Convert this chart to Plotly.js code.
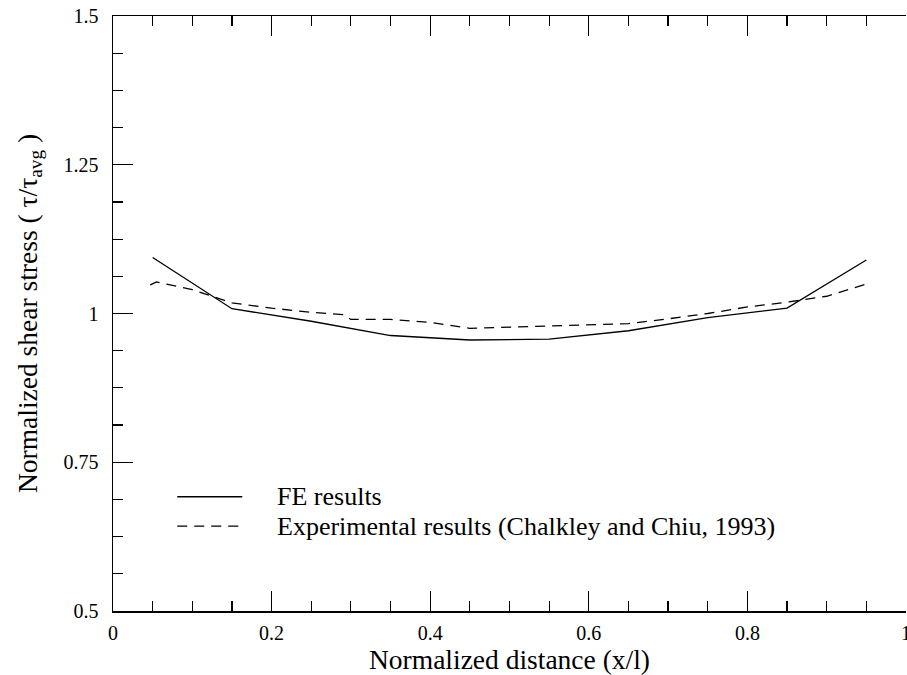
<!DOCTYPE html>
<html>
<head>
<meta charset="utf-8">
<script src="https://cdn.plot.ly/plotly-3.0.1.min.js"></script>
<style>html,body{margin:0;padding:0;background:#fff}#chart{width:907px;height:675px}</style>
</head>
<body>
<div id="chart"></div>
<script>
// FE results (solid)
const feX = [0.05, 0.15, 0.25, 0.35, 0.45, 0.55, 0.65, 0.75, 0.85, 0.95];
const feY = [1.094, 1.008, 0.987, 0.963, 0.9555, 0.957, 0.971, 0.993, 1.009, 1.090];
// Experimental results (dashed)
const expX = [0.047, 0.055, 0.10, 0.15, 0.20, 0.25, 0.29, 0.30, 0.35, 0.40, 0.45, 0.50, 0.55, 0.60, 0.65, 0.70, 0.75, 0.80, 0.85, 0.90, 0.956];
const expY = [1.048, 1.053, 1.040, 1.018, 1.009, 1.002, 0.998, 0.990, 0.990, 0.985, 0.975, 0.977, 0.978, 0.981, 0.983, 0.991, 1.000, 1.011, 1.019, 1.029, 1.052];
const xTickVals = [0, 0.2, 0.4, 0.6, 0.8, 1];
const xTickText = ['0', '0.2', '0.4', '0.6', '0.8', '1'];
const yTickVals = [0.5, 0.75, 1, 1.25, 1.5];
const yTickText = ['0.5', '0.75', '1', '1.25', '1.5'];
const seriesNames = ['FE results', 'Experimental results (Chalkley and Chiu, 1993)'];
const seriesDash = ['solid', '10px,7px'];

const FONT = "'Liberation Serif', 'Times New Roman', Times, serif";

const traces = [
  {x: feX, y: feY, mode: 'lines', name: seriesNames[0], showlegend: false, line: {color: '#000', width: 1.3, dash: seriesDash[0]}},
  {x: expX, y: expY, mode: 'lines', name: seriesNames[1], showlegend: false, line: {color: '#000', width: 1.3, dash: seriesDash[1]}}
];

// Hand-drawn legend (line samples + labels), positioned in axis-domain fractions
const legRows = [0.692, 0.6425];
const legLineX = [0.081, 0.163];
const legTextX = 0.205;
const shapes = seriesNames.map((n, i) => ({
  type: 'line', xref: 'x domain', yref: 'y domain',
  x0: legLineX[0], x1: legLineX[1], y0: (legRows[i] - 0.5), y1: (legRows[i] - 0.5),
  line: {color: '#000', width: 1.3, dash: seriesDash[i]}
}));
const annotations = seriesNames.map((n, i) => ({
  text: n, xref: 'x domain', yref: 'y domain', x: legTextX, y: legRows[i] - 0.5,
  xanchor: 'left', yanchor: 'middle', showarrow: false, borderpad: 0,
  font: {family: FONT, size: 26, color: '#000'}
}));

const layout = {
  width: 907, height: 675,
  margin: {l: 113, r: 1, t: 16, b: 64},
  paper_bgcolor: '#fff', plot_bgcolor: '#fff',
  font: {family: FONT, color: '#000', size: 20},
  showlegend: false,
  shapes: shapes,
  annotations: annotations,
  xaxis: {
    range: [0, 1], showgrid: false, zeroline: false,
    showline: true, linecolor: '#000', linewidth: 1.5, mirror: 'allticks',
    ticks: 'inside', ticklen: 20, tickwidth: 1.2, tickcolor: '#000',
    tickvals: xTickVals, ticktext: xTickText, ticklabeloverflow: 'allow',
    ticklabelstandoff: 3,
    tickfont: {family: FONT, size: 20, color: '#000'},
    minor: {dtick: 0.05, tick0: 0, ticks: 'inside', ticklen: 10, tickwidth: 1.2, tickcolor: '#000', showgrid: false},
    title: {text: 'Normalized distance (x/l)', font: {family: FONT, size: 27.5, color: '#000'}, standoff: 1}
  },
  yaxis: {
    range: [0.5, 1.5], showgrid: false, zeroline: false,
    showline: true, linecolor: '#000', linewidth: 1.5,
    ticks: 'inside', ticklen: 20, tickwidth: 1.2, tickcolor: '#000',
    tickvals: yTickVals, ticktext: yTickText, ticklabelstandoff: 9,
    tickfont: {family: FONT, size: 20, color: '#000'},
    minor: {dtick: 0.0625, tick0: 0.5, ticks: 'inside', ticklen: 10, tickwidth: 1.2, tickcolor: '#000', showgrid: false},
    title: {text: 'Normalized shear stress ( τ/τ<sub>avg</sub> )', font: {family: FONT, size: 27.5, color: '#000'}, standoff: 18}
  },
  yaxis2: {
    overlaying: 'y', side: 'right', range: [0.5, 1.5], showgrid: false, zeroline: false,
    showline: true, linecolor: '#000', linewidth: 1.5,
    ticks: 'inside', ticklen: 10, tickwidth: 1.2, tickcolor: '#000',
    tick0: 0.5, dtick: 1/12, showticklabels: false
  }
};

Plotly.newPlot('chart', traces, layout, {displayModeBar: false, staticPlot: true});
</script>
</body>
</html>
